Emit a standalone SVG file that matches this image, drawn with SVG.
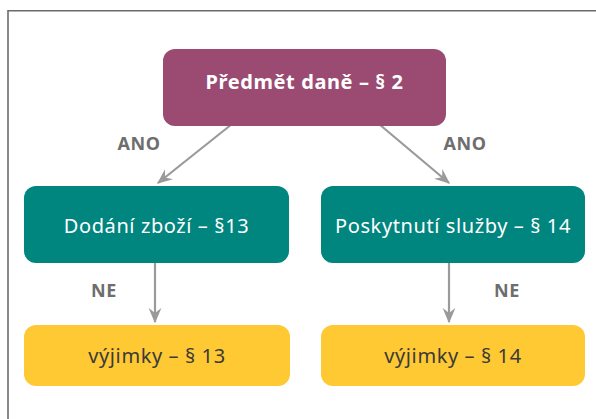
<svg xmlns="http://www.w3.org/2000/svg" width="596" height="419" viewBox="0 0 596 419">
<defs>
<style>
.frame{fill:none;stroke:#6b6b6b;stroke-width:1.6}
.purple{fill:#9b4a72}
.teal{fill:#00857f}
.yellow{fill:#ffc933}
.conn{stroke:#9a9a9a;stroke-width:2.2;fill:none;marker-end:url(#ah)}
.lbl{font-family:"Noto Sans","Open Sans","Liberation Sans",sans-serif;font-weight:bold;font-size:18px;letter-spacing:0.6px;fill:#6e6e6e;text-anchor:middle}
.t{font-family:"Noto Sans","Open Sans","Liberation Sans",sans-serif;font-size:20px;letter-spacing:0.6px;text-anchor:middle}
.w{fill:#ffffff}
.d{fill:#3a3a3a}
</style>
<marker id="ah" viewBox="0 0 12 10" refX="11" refY="5" markerWidth="7" markerHeight="6" markerUnits="strokeWidth" orient="auto">
<path d="M0,0 L12,5 L0,10 L4,5 Z" fill="#9a9a9a"/>
</marker>
</defs>
<rect width="596" height="419" fill="#ffffff"/>
<path class="frame" d="M8,419 V10.8 H596"/>
<g id="connectors">
<line class="conn" x1="232" y1="124" x2="158" y2="183"/>
<line class="conn" x1="379" y1="124" x2="449" y2="183"/>
<line class="conn" x1="155" y1="263" x2="155" y2="322"/>
<line class="conn" x1="449" y1="263" x2="449" y2="322"/>
<text class="lbl" x="139" y="150">ANO</text>
<text class="lbl" x="465" y="150">ANO</text>
<text class="lbl" x="104" y="297">NE</text>
<text class="lbl" x="507" y="297">NE</text>
</g>
<g id="predmet">
<rect class="purple" x="163" y="49" width="283" height="77" rx="12"/>
<text class="t w" x="304.5" y="89" font-weight="bold" font-size="21px" letter-spacing="0.5px">Předmět daně – § 2</text>
</g>
<g id="dodani">
<rect class="teal" x="24" y="186" width="265" height="77" rx="12"/>
<text class="t w" x="156.5" y="233">Dodání zboží – §13</text>
</g>
<g id="poskytnuti">
<rect class="teal" x="321" y="186" width="264" height="77" rx="12"/>
<text class="t w" x="453" y="233">Poskytnutí služby – § 14</text>
</g>
<g id="vyjimky13">
<rect class="yellow" x="24" y="325" width="266" height="61" rx="12"/>
<text class="t d" x="157" y="363">výjimky – § 13</text>
</g>
<g id="vyjimky14">
<rect class="yellow" x="321" y="325" width="264" height="61" rx="12"/>
<text class="t d" x="453" y="363">výjimky – § 14</text>
</g>
</svg>
